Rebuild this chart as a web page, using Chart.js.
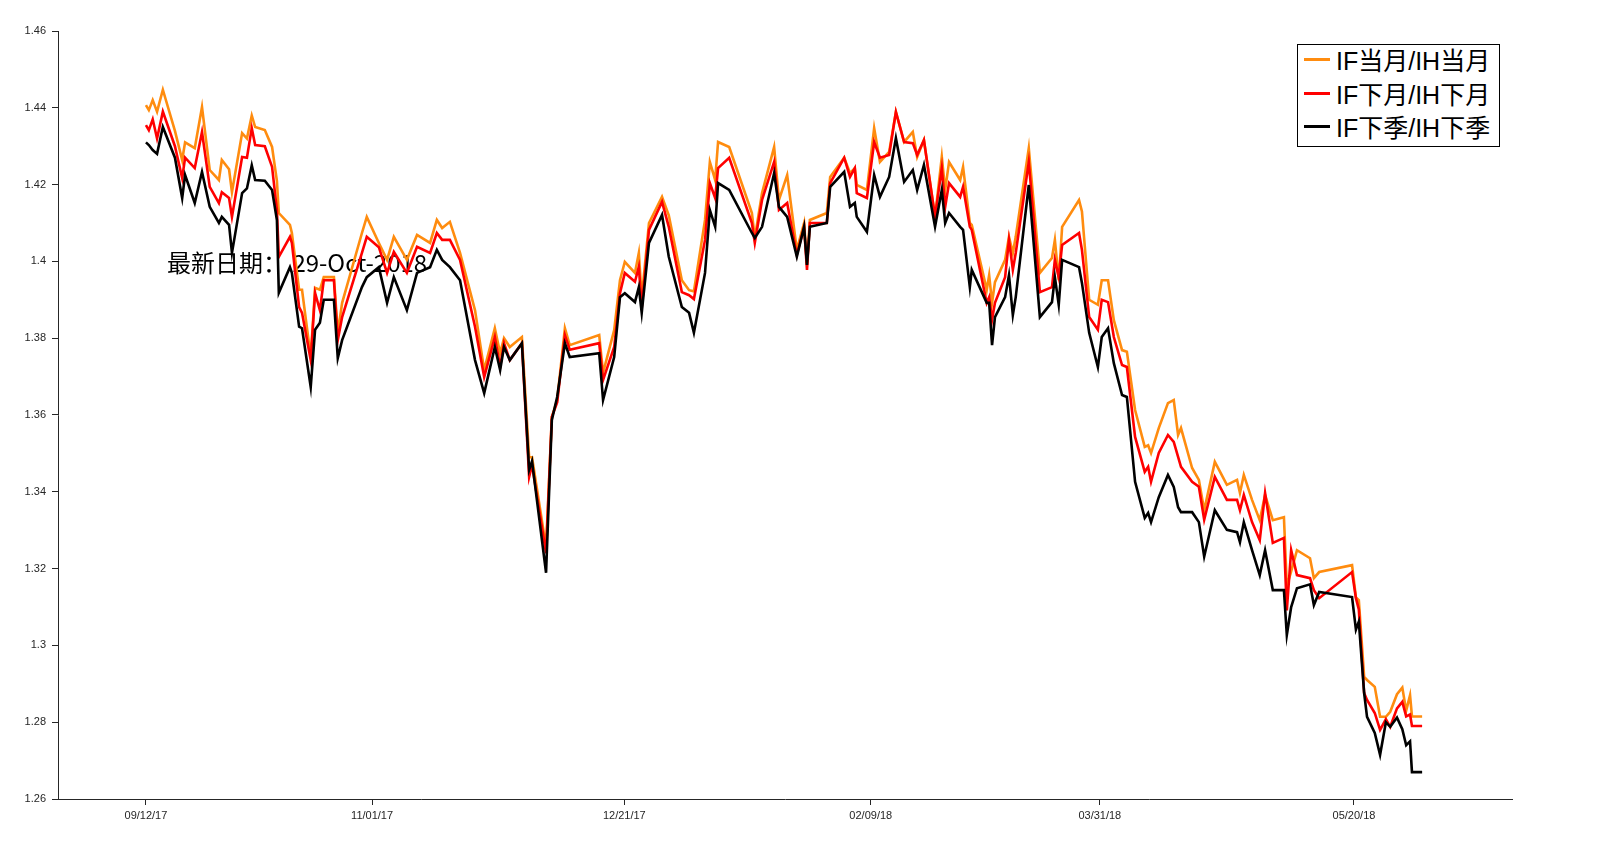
<!DOCTYPE html>
<html>
<head>
<meta charset="utf-8">
<script src="https://cdn.jsdelivr.net/npm/chart.js@4"></script>
<style>
  html, body { margin: 0; background: #fff; overflow: hidden; }
  #wrap { position: relative; width: 1602px; height: 861px; overflow: hidden; }
  canvas { display: block; }
  #legend {
    position: absolute; left: 1297px; top: 44px; width: 201px; height: 101px;
    border: 1px solid #000; background: #fff;
    font-family: "Liberation Sans", "Noto Sans CJK SC", sans-serif; font-size: 25px; color: #000;
  }
  #legend div { height: 33.5px; line-height: 33.5px; white-space: nowrap; }
  #legend span { display: inline-block; width: 26px; height: 3px; margin: 0 6px 7px 6px; vertical-align: middle; }
</style>
</head>
<body>
<div id="wrap">
  <canvas id="c" width="1602" height="861"></canvas>
  <div id="legend">
    <div><span style="background:#ff8c0f"></span>IF当月/IH当月</div>
    <div><span style="background:#ff0000"></span>IF下月/IH下月</div>
    <div><span style="background:#000"></span>IF下季/IH下季</div>
  </div>
</div>
<script>
// --- Data ---
// x: sessions counted from 09/12/17
const xs = [0,0.6,1.4,2.3,3.5,6.0,7.5,8.1,10.1,11.6,13.2,15.1,15.7,17.2,17.8,19.9,20.9,21.9,22.6,24.6,
  26.1,27.1,27.5,29.8,30.2,31.7,32.3,34.1,35.0,36.0,36.8,38.9,39.7,40.6,44.7,45.7,48.2,49.9,51.3,54.0,
  56.1,58.8,60.2,61.3,62.9,65.0,68.1,70.0,72.2,73.3,74.1,75.3,77.8,79.3,79.9,82.8,84.0,85.1,86.7,87.7,
  93.8,94.6,96.9,98.1,99.1,101.2,102.0,102.6,104.1,106.8,108.2,110.9,112.4,113.4,115.7,116.7,117.8,118.4,120.7,125.4,
  126.0,127.5,130.0,131.0,132.7,134.7,136.2,136.8,137.4,140.9,141.6,144.5,145.7,146.7,147.1,149.2,150.7,151.9,153.8,155.2,
  156.9,158.7,159.6,161.0,163.3,164.7,165.4,166.2,168.5,169.1,170.5,170.9,174.0,174.5,175.1,175.7,177.8,178.6,179.4,180.0,
  182.7,185.0,187.5,188.1,188.9,189.6,193.1,193.7,195.2,197.0,197.8,199.1,200.3,202.0,203.0,204.7,206.7,207.4,208.0,209.6,
  211.5,212.7,213.6,214.2,216.5,217.9,219.0,221.2,223.7,225.8,226.4,227.2,228.9,230.5,231.6,233.2,235.5,236.1,237.0,238.2,
  240.9,241.7,242.8,249.6,250.4,251.0,252.1,252.7,254.3,255.4,256.6,257.5,258.9,260.0,260.8,261.6,262.0,264.1];

const ifIhCur = [1.4407,1.4394,1.442,1.439,1.4447,1.434,1.4264,1.431,1.4295,1.4402,1.4238,1.4212,1.4264,1.424,1.418,1.4334,1.432,1.438,1.435,1.4342,
  1.4298,1.421,1.4126,1.4095,1.4074,1.3926,1.3926,1.3751,1.3931,1.3926,1.3959,1.3959,1.3814,1.3892,1.4074,1.4116,1.4048,1.4004,1.4064,1.4004,
  1.4069,1.4048,1.4108,1.4087,1.4103,1.4022,1.3873,1.3717,1.3826,1.3761,1.38,1.3777,1.3803,1.349,1.349,1.3256,1.3595,1.3639,1.3826,1.3782,
  1.3808,1.371,1.3821,1.3951,1.3999,1.397,1.4022,1.3905,1.41,1.4168,1.412,1.3951,1.3925,1.3922,1.4108,1.4259,1.4212,1.4311,1.4298,1.4126,
  1.4061,1.4178,1.4298,1.416,1.4225,1.403,1.41,1.3991,1.4108,1.4126,1.422,1.427,1.423,1.4243,1.4199,1.4186,1.4347,1.4259,1.4285,1.4389,
  1.4311,1.4337,1.4272,1.4316,1.4116,1.4272,1.4186,1.4259,1.4212,1.4246,1.41,1.4095,1.3926,1.3964,1.3892,1.3946,1.4004,1.4064,1.4022,1.4064,
  1.4295,1.397,1.4009,1.4056,1.3951,1.409,1.416,1.413,1.39,1.3887,1.3951,1.3951,1.3847,1.3769,1.3765,1.3613,1.3517,1.3521,1.3501,1.3566,
  1.3631,1.3639,1.3548,1.3566,1.3462,1.3431,1.3352,1.3478,1.3418,1.3431,1.3397,1.3444,1.3379,1.3326,1.3392,1.3326,1.3334,1.3154,1.3193,1.3248,
  1.3227,1.3175,1.3191,1.3209,1.3125,1.3118,1.2918,1.291,1.2892,1.2814,1.2814,1.2827,1.2873,1.289,1.283,1.287,1.2815,1.2815];

const ifIhNext = [1.4355,1.4342,1.437,1.432,1.439,1.43,1.4217,1.427,1.4243,1.4337,1.4194,1.4152,1.418,1.4165,1.4116,1.4272,1.427,1.4347,1.4303,1.430,
  1.4246,1.4134,1.4012,1.4064,1.4048,1.3881,1.3866,1.3743,1.3918,1.3873,1.3951,1.3951,1.3795,1.3855,1.4022,1.4064,1.4037,1.397,1.4025,1.397,
  1.4038,1.4022,1.4074,1.4056,1.4056,1.4004,1.383,1.3699,1.3803,1.3725,1.3787,1.3743,1.3787,1.3439,1.347,1.324,1.3595,1.3633,1.3808,1.377,
  1.3787,1.3691,1.3777,1.3917,1.397,1.3947,1.3986,1.3879,1.4082,1.4155,1.409,1.392,1.3912,1.3902,1.4056,1.4204,1.4165,1.4243,1.427,1.41,
  1.4048,1.416,1.4259,1.4134,1.4152,1.4017,1.409,1.3978,1.41,1.41,1.4204,1.427,1.422,1.4243,1.4178,1.4165,1.4311,1.427,1.4277,1.4389,
  1.4311,1.4308,1.4277,1.4316,1.4116,1.4243,1.4142,1.4204,1.4168,1.4194,1.409,1.4082,1.3892,1.3907,1.3848,1.3892,1.3959,1.4056,1.3978,1.4022,
  1.4259,1.392,1.3933,1.4004,1.3959,1.4043,1.4074,1.4030,1.3855,1.3822,1.39,1.3894,1.3803,1.373,1.3725,1.3543,1.3452,1.3465,1.3426,1.3501,
  1.3548,1.353,1.3491,1.3465,1.3426,1.3413,1.3327,1.3439,1.3379,1.3379,1.3352,1.3392,1.3321,1.3274,1.3397,1.3267,1.328,1.3091,1.3248,1.3183,
  1.3175,1.3144,1.3123,1.3191,1.3123,1.3094,1.2876,1.2858,1.2824,1.278,1.2808,1.2788,1.2836,1.2853,1.2815,1.282,1.279,1.279];

const ifIhQtr = [1.431,1.4303,1.429,1.428,1.435,1.427,1.4165,1.4225,1.4152,1.4233,1.4142,1.41,1.4116,1.4095,1.4022,1.4178,1.419,1.425,1.4212,1.421,
  1.4186,1.4108,1.3918,1.3985,1.397,1.383,1.3826,1.3673,1.3822,1.384,1.390,1.390,1.3748,1.3795,1.3933,1.3959,1.3985,1.3892,1.3959,1.3873,
  1.397,1.3985,1.403,1.4004,1.3985,1.3951,1.3743,1.3657,1.3777,1.3717,1.3777,1.3743,1.3787,1.3457,1.348,1.3189,1.3587,1.3647,1.3787,1.3751,
  1.3761,1.3639,1.3751,1.3907,1.3917,1.3894,1.3933,1.3866,1.4048,1.4121,1.4012,1.3881,1.3866,1.3814,1.397,1.4134,1.409,1.4204,1.4186,1.4074,
  1.4061,1.409,1.423,1.4142,1.4116,1.4012,1.409,1.3991,1.409,1.41,1.4194,1.4233,1.4142,1.4152,1.4116,1.4077,1.4225,1.4168,1.422,1.4321,
  1.4207,1.4238,1.4186,1.4251,1.409,1.4186,1.41,1.4126,1.409,1.4082,1.3933,1.3978,1.3892,1.3892,1.3782,1.3855,1.3907,1.3964,1.386,1.3907,
  1.4199,1.3855,1.3894,1.3959,1.3887,1.4004,1.3985,1.3944,1.3814,1.3725,1.3803,1.3826,1.3735,1.3652,1.3647,1.3426,1.3332,1.3345,1.3321,1.3386,
  1.3444,1.3413,1.336,1.3347,1.3347,1.3321,1.3231,1.3352,1.3301,1.3295,1.3269,1.3321,1.3248,1.3183,1.3248,1.3144,1.3144,1.3027,1.31,1.3149,
  1.3159,1.3105,1.3139,1.3126,1.3041,1.3062,1.2876,1.2814,1.2772,1.2715,1.28,1.2788,1.2812,1.2782,1.274,1.275,1.267,1.267];

const xTickPos = [0, 46.8, 99, 150, 197.4, 250];
const xTickLabels = ['09/12/17', '11/01/17', '12/21/17', '02/09/18', '03/31/18', '05/20/18'];
const yTicks = [1.26, 1.28, 1.30, 1.32, 1.34, 1.36, 1.38, 1.40, 1.42, 1.44, 1.46];
const noteText = '最新日期： 29-Oct-2018';

const toPts = ys => xs.map((x, i) => ({ x: x, y: ys[i] }));

// --- note text drawn under the lines ---
const notePlugin = {
  id: 'note',
  beforeDatasetsDraw(chart) {
    const ctx = chart.ctx;
    ctx.save();
    ctx.font = '24px "Noto Sans CJK SC", sans-serif';
    ctx.fillStyle = '#000';
    ctx.textBaseline = 'middle';
    ctx.fillText(noteText, 167, 263);
    ctx.restore();
  }
};

Chart.defaults.font.family = '"Liberation Sans", Arial, sans-serif';
Chart.defaults.font.size = 11;
Chart.defaults.color = '#262626';

new Chart(document.getElementById('c'), {
  type: 'line',
  data: {
    datasets: [
      { label: 'IF当月/IH当月', data: toPts(ifIhCur), borderColor: '#ff8c0f', order: 2 },
      { label: 'IF下月/IH下月', data: toPts(ifIhNext), borderColor: '#ff0000', order: 1 },
      { label: 'IF下季/IH下季', data: toPts(ifIhQtr), borderColor: '#000000', order: 0 }
    ]
  },
  options: {
    responsive: false,
    animation: false,
    events: [],
    elements: { point: { radius: 0 }, line: { borderWidth: 2.6, tension: 0 } },
    layout: { padding: { top: 31, right: 90, left: 0, bottom: 0 } },
    plugins: { legend: { display: false }, tooltip: { enabled: false } },
    scales: {
      x: {
        type: 'linear', min: -18.2, max: 282.7,
        afterBuildTicks: s => { s.ticks = xTickPos.map(v => ({ value: v })); },
        afterFit: s => { s.height = 62; },
        ticks: { callback: (v, i) => xTickLabels[i], maxRotation: 0, padding: 4 },
        grid: { drawOnChartArea: false, tickLength: 6, color: '#262626' },
        border: { color: '#262626' }
      },
      y: {
        min: 1.26, max: 1.46,
        afterBuildTicks: s => { s.ticks = yTicks.map(v => ({ value: v })); },
        afterFit: s => { s.width = 58; },
        ticks: { callback: v => String(Math.round(v * 100) / 100), padding: 6 },
        grid: { drawOnChartArea: false, tickLength: 6, color: '#262626' },
        border: { color: '#262626' }
      }
    }
  },
  plugins: [notePlugin]
});
</script>
</body>
</html>
